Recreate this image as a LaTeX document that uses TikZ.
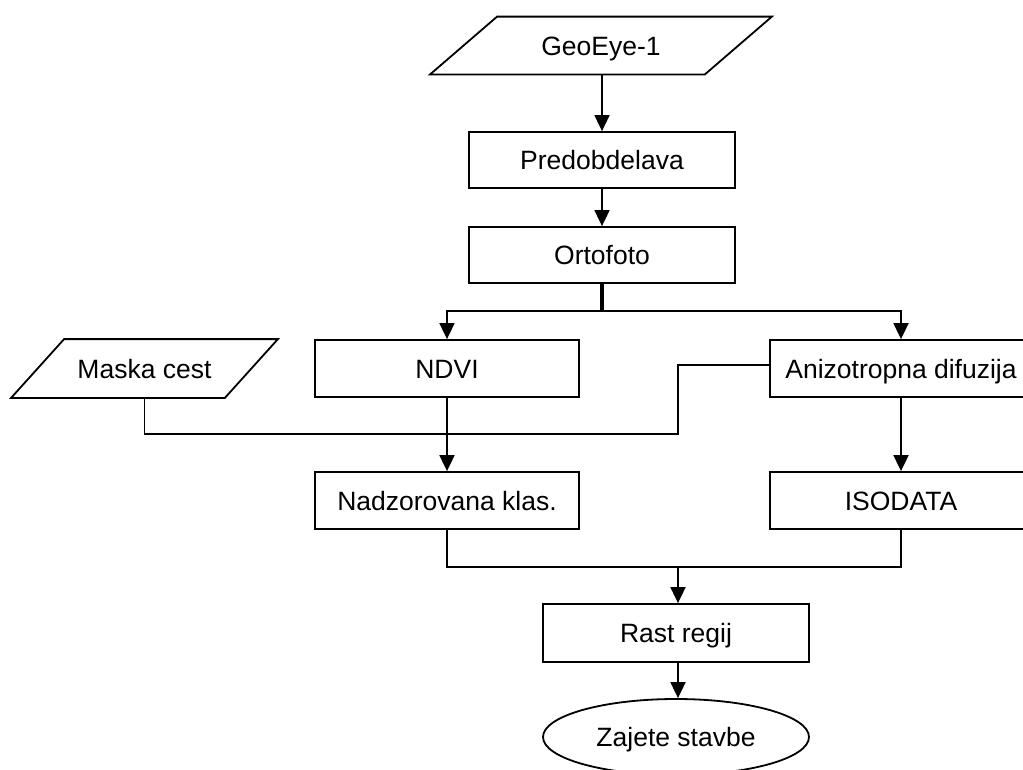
\documentclass[tikz,border=0pt]{standalone}
\usepackage{fontspec}
\setmainfont{Liberation Sans}
\usetikzlibrary{arrows.meta,shapes.geometric}
\begin{document}
\begin{tikzpicture}[x=1pt,y=-1pt,
  line width=1.8pt,
  every node/.style={font=\fontsize{26.5}{31}\selectfont, inner sep=0pt, text height=19pt, text depth=0pt},
  box/.style={draw, rectangle, minimum width=266pt, minimum height=56pt},
  para/.style={rectangle, minimum height=56pt},
  term/.style={draw, ellipse, minimum width=266pt, minimum height=76pt},
  arr/.style={-{Triangle[length=16pt,width=15pt]}}]
\clip (0,0) rectangle (1023,769);
\fill[white] (0,0) rectangle (1023,769);

% parallelograms
\node[para, minimum width=273pt] (geo) at (601,45.5) {GeoEye-1};
\draw ([xshift=33.5pt]geo.north west) -- ([xshift=33.5pt]geo.north east)
      -- ([xshift=-33.5pt]geo.south east) -- ([xshift=-33.5pt]geo.south west) -- cycle;
\node[para, minimum width=212pt, minimum height=57pt] (maska) at (144.5,368.5) {Maska cest};
\draw ([xshift=26.5pt]maska.north west) -- ([xshift=26.5pt]maska.north east)
      -- ([xshift=-26.5pt]maska.south east) -- ([xshift=-26.5pt]maska.south west) -- cycle;

% boxes
\node[box] (pred) at (602,160) {Predobdelava};
\node[box] (orto) at (602,255) {Ortofoto};
\node[box, minimum width=264pt, minimum height=57pt] (ndvi) at (447,368.5) {NDVI};
\node[box, minimum width=262pt, minimum height=57pt] (aniz) at (901,368.5) {Anizotropna difuzija};
\node[box, minimum width=264pt, minimum height=57pt] (nadz) at (447,500.5) {Nadzorovana klas.};
\node[box, minimum width=262pt, minimum height=57pt] (iso) at (901,500.5) {ISODATA};
\node[box, minimum height=58pt] (rast) at (676,633) {Rast regij};
\node[term] (zaj) at (676,737) {Zajete stavbe};

% helper coordinates
\coordinate (br) at (602,311);
\coordinate (brL) at (447,311);
\coordinate (brR) at (901,311);
\coordinate (m1) at (144.5,434);
\coordinate (m2) at (678,434);
\coordinate (m3) at (678,365);
\coordinate (j1) at (447,567);
\coordinate (j2) at (901,567);
\coordinate (j3) at (678,567);

% connectors
\draw[arr] (geo.south -| pred.north) -- (pred.north);
\draw[arr] (pred.south) -- (orto.north);
\draw[line width=3.5pt] (orto.south) -- (br);
\draw[arr] (br) -- (brL) -- (ndvi.north);
\draw[arr] (br) -- (brR) -- (aniz.north);
\draw (maska.south) -- (m1) -- (m2) -- (m3) -- (m3 -| aniz.west);
\draw[arr] (ndvi.south) -- (nadz.north);
\draw[arr] (aniz.south) -- (iso.north);
\draw (nadz.south) -- (j1) -- (j2) -- (iso.south);
\draw[arr] (j3) -- (j3 |- rast.north);
\draw[arr] (rast.south -| j3) -- (j3 |- zaj.north);
\end{tikzpicture}
\end{document}
